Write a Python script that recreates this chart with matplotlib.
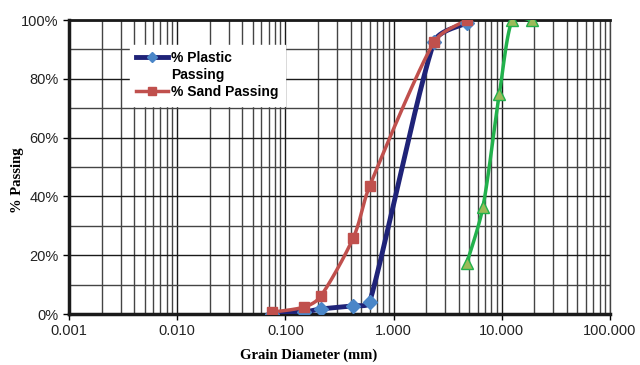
import numpy as np
import matplotlib.pyplot as plt
from matplotlib.ticker import FixedLocator, NullFormatter, PercentFormatter

# sieve data (mm, % passing)
plastic_d = [0.075, 0.15, 0.212, 0.425, 0.6, 2.36, 4.75]
plastic_p = [0.0, 0.7, 1.7, 2.8, 4.0, 92.5, 99.0]

sand_d = [0.075, 0.15, 0.212, 0.425, 0.6, 2.36, 4.75]
sand_p = [0.6, 2.4, 6.0, 26.0, 43.5, 92.5, 100.0]

gravel_d = [4.75, 6.7, 9.5, 12.5, 19.0]
gravel_p = [17.3, 36.5, 75.0, 100.0, 100.0]

xticks = [0.001, 0.01, 0.1, 1, 10, 100]
xtick_labels = ["0.001", "0.010", "0.100", "1.000", "10.000", "100.000"]


def smooth(xs, ys, n=30):
    # excel-like smoothed line (bezier in screen-ish space, control arms capped)
    sx, sy = 108.2, 2.94
    P = np.column_stack([np.log10(xs) * sx, np.array(ys) * sy])
    P = np.vstack([P[0], P, P[-1]])
    out = []
    t = np.linspace(0, 1, n)[:, None]
    for i in range(1, len(P) - 2):
        p0, p1, p2, p3 = P[i - 1], P[i], P[i + 1], P[i + 2]
        seg = np.hypot(*(p2 - p1)) / 3
        d1 = (p2 - p0) / 6
        d2 = (p3 - p1) / 6
        l1, l2 = np.hypot(*d1), np.hypot(*d2)
        if l1 > seg:
            d1 = d1 * seg / l1
        if l2 > seg:
            d2 = d2 * seg / l2
        c1 = p1 + d1
        c2 = p2 - d2
        b = ((1 - t) ** 3) * p1 + 3 * ((1 - t) ** 2) * t * c1 + 3 * (1 - t) * t ** 2 * c2 + t ** 3 * p2
        out.append(b)
    out = np.vstack(out)
    return 10 ** (out[:, 0] / sx), out[:, 1] / sy


fig = plt.figure(figsize=(6.4, 3.65), dpi=100)
ax = fig.add_axes([69 / 640, 51 / 365, 541 / 640, 294 / 365])

ax.set_xscale("log")
ax.set_xlim(0.001, 100)
ax.set_ylim(0, 100)

# grid
ax.xaxis.set_minor_locator(FixedLocator([m * 10.0 ** e for e in range(-3, 2) for m in range(2, 10)]))
ax.xaxis.set_minor_formatter(NullFormatter())
ax.yaxis.set_minor_locator(FixedLocator(np.arange(10, 100, 20)))
ax.grid(True, which="major", color="#1a1a1a", lw=1.0)
ax.grid(True, which="minor", color="#444444", lw=1.0)
ax.set_axisbelow(True)

xb, yb = smooth(plastic_d, plastic_p)
ax.plot(xb, yb, color="#1f2378", lw=3.5, zorder=3)
ax.plot(plastic_d, plastic_p, ls="none", marker="D", ms=7.5, mfc="#4a86c8", mec="#4a86c8", zorder=4)

xr, yr = smooth(sand_d, sand_p)
ax.plot(xr, yr, color="#c0504d", lw=2.5, zorder=3)
ax.plot(sand_d, sand_p, ls="none", marker="s", ms=7.5, mfc="#c0504d", mec="#c0504d", zorder=5)

xg, yg = smooth(gravel_d, gravel_p)
ax.plot(xg, yg, color="#22b14c", lw=2.5, zorder=3)
ax.plot(gravel_d, gravel_p, ls="none", marker="^", ms=8, mfc="#9bbb59", mec="#22b14c", zorder=4)

# legend proxies (label wrapped over two rows, handle on the first)
ax.plot([], [], color="#1f2378", lw=3.5, marker="D", ms=5, mfc="#4a86c8", mec="#4a86c8",
        label="% Plastic")
ax.plot([], [], color="none", label="Passing")
ax.plot([], [], color="#c0504d", lw=2.5, marker="s", ms=6, mfc="#c0504d", mec="#c0504d",
        label="% Sand Passing")
leg = ax.legend(loc="upper left", bbox_to_anchor=(0.113, 0.915), borderaxespad=0,
                frameon=True, fancybox=False, edgecolor="white", framealpha=1,
                borderpad=0.45, handlelength=2.3, handletextpad=0.2, labelspacing=0.22,
                prop={"family": "Liberation Sans", "weight": "bold", "size": 10})

ax.set_xticks(xticks)
ax.set_xticklabels(xtick_labels)
ax.set_yticks(np.arange(0, 101, 20))
ax.yaxis.set_major_formatter(PercentFormatter(decimals=0))
ax.tick_params(axis="both", which="major", direction="out", length=4, width=1,
               labelsize=10.5, labelcolor="#222222")
ax.tick_params(axis="both", which="minor", length=0)
for lab in ax.get_xticklabels() + ax.get_yticklabels():
    lab.set_family("Liberation Sans")

for s in ["left", "bottom"]:
    ax.spines[s].set_linewidth(2.5)
    ax.spines[s].set_color("#1a1a1a")
ax.spines["top"].set_linewidth(2.0)
ax.spines["top"].set_color("#1a1a1a")
ax.spines["right"].set_linewidth(1.0)
ax.spines["right"].set_color("#444444")

fig.text(309 / 640, 1 - 355 / 365, "Grain Diameter (mm)", ha="center", va="center",
         family="Liberation Serif", weight="bold", fontsize=10.5)
fig.text(18 / 640, 1 - 180 / 365, "% Passing", ha="center", va="center", rotation=90,
         family="Liberation Serif", weight="bold", fontsize=10.5)

fig.savefig("out.png", dpi=100, facecolor="white")
